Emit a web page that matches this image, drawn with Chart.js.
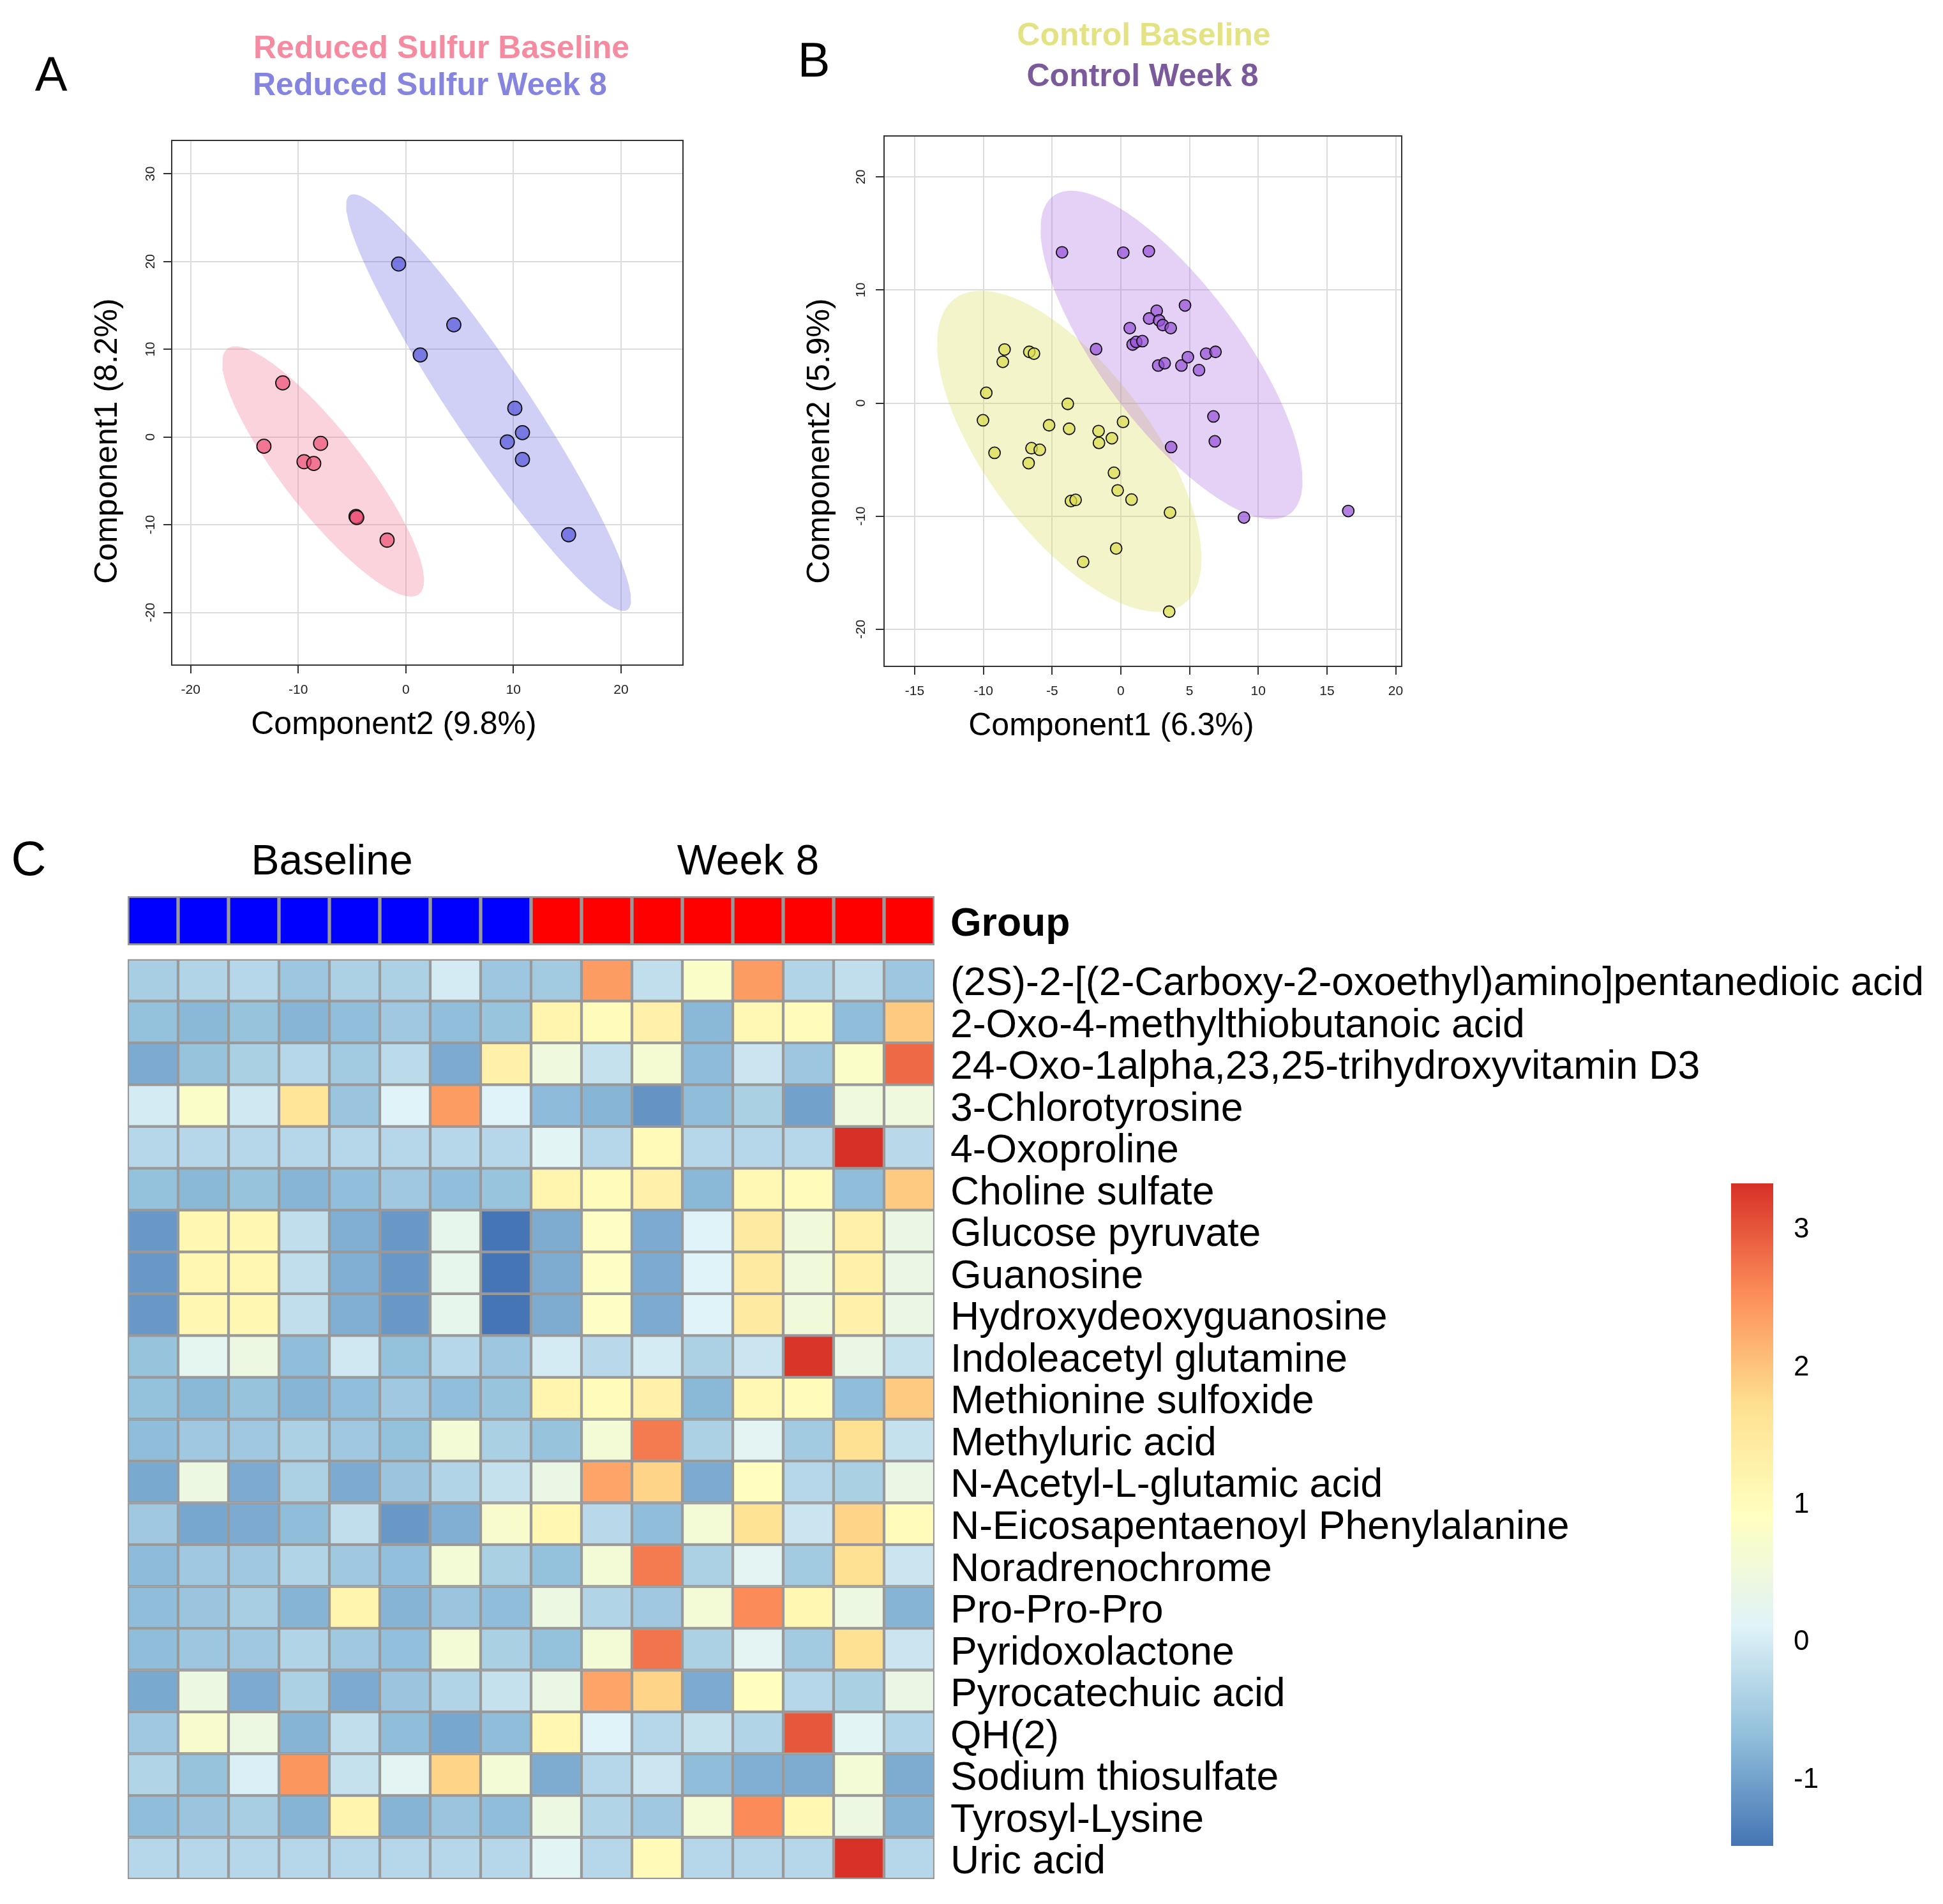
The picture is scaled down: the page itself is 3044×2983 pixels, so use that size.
<!DOCTYPE html>
<html>
<head>
<meta charset="utf-8">
<script src="https://cdn.jsdelivr.net/npm/chart.js@4.4.1/dist/chart.umd.min.js"></script>
<style>
  html, body { margin: 0; padding: 0; background: #fff; }
  body { width: 3044px; height: 2983px; position: relative; overflow: hidden; font-family: "Liberation Sans", Arial, sans-serif; }
  canvas { position: absolute; }
  .txt { position: absolute; white-space: nowrap; line-height: 1; color: #000; }
  .c { transform: translate(-50%, -50%); }
  .l { transform: translate(0, -50%); }
  .rot { transform: translate(-50%, -50%) rotate(-90deg); }
  .b { font-weight: bold; }
</style>
</head>
<body>
<!-- panel letters -->
<div class="txt c" style="left:80px; top:116px; font-size:76px;">A</div>
<div class="txt c" style="left:1275px; top:94px; font-size:76px;">B</div>
<div class="txt c" style="left:45px; top:1345px; font-size:76px;">C</div>

<!-- panel A legend + axis titles -->
<div class="txt l b" style="left:397px; top:74px; font-size:50px; color:#F48BA0;">Reduced Sulfur Baseline</div>
<div class="txt l b" style="left:396px; top:132px; font-size:50px; color:#8585E0;">Reduced Sulfur Week 8</div>
<div class="txt rot" style="left:166px; top:691px; font-size:50px;">Component1 (8.2%)</div>
<div class="txt c" style="left:617px; top:1133px; font-size:50px;">Component2 (9.8%)</div>
<canvas id="chartA" width="910" height="920" style="left:180px; top:200px;"></canvas>

<!-- panel B legend + axis titles -->
<div class="txt c b" style="left:1792px; top:54px; font-size:50px; color:#E3E385;">Control Baseline</div>
<div class="txt c b" style="left:1790px; top:118px; font-size:50px; color:#7A5A9A;">Control Week 8</div>
<div class="txt rot" style="left:1282px; top:691px; font-size:50px;">Component2 (5.9%)</div>
<div class="txt c" style="left:1741px; top:1135px; font-size:50px;">Component1 (6.3%)</div>
<canvas id="chartB" width="930" height="930" style="left:1290px; top:190px;"></canvas>

<!-- panel C -->
<div class="txt c" style="left:520px; top:1347px; font-size:66px;">Baseline</div>
<div class="txt c" style="left:1172px; top:1347px; font-size:66px;">Week 8</div>
<canvas id="chartHeat" width="2860" height="1580" style="left:180px; top:1390px;"></canvas>
<canvas id="chartLegend" width="250" height="1100" style="left:2700px; top:1830px;"></canvas>

<script>
// ---- Panel A: Reduced Sulfur (scores) ----
const rsBaseX = [-11.44, -13.19, -7.92, -9.46, -8.56, -4.63, -4.56, -1.74];
const rsBaseY = [6.16, -1.06, -0.73, -2.82, -3.02, -9.06, -9.18, -11.76];
const rsWeek8X = [-0.67, 4.46, 1.34, 10.13, 10.84, 9.43, 10.84, 15.13];
const rsWeek8Y = [19.71, 12.78, 9.35, 3.27, 0.49, -0.57, -2.57, -11.14];

// ---- Panel B: Control ----
const ctlBaseX = [-8.46, -8.59, -6.66, -6.32, -9.79, -10.03, -3.86, -5.22, -3.76, -1.62, 0.16, -0.65, -1.59,
                  -6.50, -5.90, -9.19, -6.71, -0.50, -0.23, -3.63, -3.29, 0.78, 3.58, -0.34, -2.74, 3.52];
const ctlBaseY = [4.74, 3.65, 4.53, 4.37, 0.91, -1.52, -0.07, -1.96, -2.27, -2.47, -1.66, -3.11, -3.52,
                  -3.99, -4.13, -4.40, -5.31, -6.16, -7.72, -8.66, -8.56, -8.53, -9.68, -12.86, -14.04, -18.44];
const ctlWeek8X = [-4.28, 0.18, 2.04, 4.67, 2.61, 2.06, 2.79, 3.05, 3.63, 0.65, -1.80, 0.86, 1.12,
                   1.57, 2.72, 3.19, 4.41, 4.88, 5.69, 6.21, 6.89, 6.74, 6.84, 3.66, 8.96, 16.55];
const ctlWeek8Y = [13.33, 13.30, 13.43, 8.63, 8.16, 7.48, 7.31, 6.90, 6.63, 6.63, 4.77, 5.18, 5.41,
                   5.48, 3.32, 3.52, 3.32, 4.06, 2.91, 4.37, 4.53, -1.18, -3.38, -3.89, -10.12, -9.54];

// ---- Panel C: heatmap ----
const groupLabels = ['Baseline', 'Baseline', 'Baseline', 'Baseline', 'Baseline', 'Baseline', 'Baseline', 'Baseline',
                     'Week 8', 'Week 8', 'Week 8', 'Week 8', 'Week 8', 'Week 8', 'Week 8', 'Week 8'];
const metabolites = [
  '(2S)-2-[(2-Carboxy-2-oxoethyl)amino]pentanedioic acid',
  '2-Oxo-4-methylthiobutanoic acid',
  '24-Oxo-1alpha,23,25-trihydroxyvitamin D3',
  '3-Chlorotyrosine',
  '4-Oxoproline',
  'Choline sulfate',
  'Glucose pyruvate',
  'Guanosine',
  'Hydroxydeoxyguanosine',
  'Indoleacetyl glutamine',
  'Methionine sulfoxide',
  'Methyluric acid',
  'N-Acetyl-L-glutamic acid',
  'N-Eicosapentaenoyl Phenylalanine',
  'Noradrenochrome',
  'Pro-Pro-Pro',
  'Pyridoxolactone',
  'Pyrocatechuic acid',
  'QH(2)',
  'Sodium thiosulfate',
  'Tyrosyl-Lysine',
  'Uric acid'
];
const heatValues = [
  [-0.45, -0.35, -0.30, -0.55, -0.40, -0.40, 0.00, -0.55, -0.50, 2.40, -0.20, 0.80, 2.40, -0.35, -0.20, -0.55],
  [-0.65, -0.75, -0.62, -0.78, -0.68, -0.52, -0.68, -0.60, 1.20, 1.00, 1.30, -0.75, 1.10, 1.00, -0.70, 1.95],
  [-0.90, -0.62, -0.42, -0.30, -0.50, -0.25, -0.90, 1.30, 0.50, -0.15, 0.65, -0.72, -0.10, -0.55, 0.80, 2.85],
  [0.00, 0.80, -0.05, 1.60, -0.58, 0.12, 2.40, 0.12, -0.72, -0.78, -1.15, -0.70, -0.42, -1.00, 0.50, 0.50],
  [-0.30, -0.30, -0.30, -0.30, -0.30, -0.30, -0.30, -0.30, 0.18, -0.30, 1.05, -0.30, -0.30, -0.30, 3.34, -0.27],
  [-0.65, -0.75, -0.62, -0.78, -0.68, -0.52, -0.68, -0.60, 1.20, 1.00, 1.30, -0.75, 1.10, 1.00, -0.70, 1.95],
  [-1.10, 1.15, 1.15, -0.20, -0.85, -1.10, 0.30, -1.48, -0.88, 0.85, -0.90, 0.12, 1.45, 0.55, 1.30, 0.40],
  [-1.10, 1.15, 1.15, -0.20, -0.85, -1.10, 0.30, -1.48, -0.88, 0.85, -0.90, 0.12, 1.45, 0.55, 1.30, 0.40],
  [-1.10, 1.15, 1.15, -0.20, -0.85, -1.10, 0.30, -1.48, -0.88, 0.85, -0.90, 0.12, 1.45, 0.55, 1.30, 0.40],
  [-0.62, 0.25, 0.45, -0.70, -0.05, -0.65, -0.30, -0.55, 0.00, -0.27, 0.00, -0.40, -0.10, 3.30, 0.40, -0.15],
  [-0.65, -0.75, -0.62, -0.78, -0.68, -0.52, -0.68, -0.60, 1.20, 1.00, 1.30, -0.75, 1.10, 1.00, -0.70, 1.95],
  [-0.70, -0.52, -0.52, -0.40, -0.52, -0.65, 0.60, -0.42, -0.62, 0.60, 2.70, -0.40, 0.20, -0.50, 1.70, -0.15],
  [-0.92, 0.45, -0.90, -0.40, -0.90, -0.58, -0.35, -0.15, 0.40, 2.30, 1.85, -0.90, 0.95, -0.30, -0.42, 0.40],
  [-0.52, -0.95, -0.90, -0.70, -0.20, -1.10, -0.85, 0.75, 1.15, -0.27, -0.70, 0.60, 1.65, -0.10, 1.85, 1.00],
  [-0.72, -0.52, -0.52, -0.35, -0.52, -0.67, 0.60, -0.42, -0.65, 0.60, 2.70, -0.40, 0.20, -0.50, 1.70, -0.10],
  [-0.70, -0.58, -0.45, -0.80, 1.20, -0.80, -0.58, -0.70, 0.45, -0.35, -0.52, 0.60, 2.55, 1.15, 0.45, -0.80],
  [-0.70, -0.55, -0.52, -0.35, -0.52, -0.67, 0.60, -0.42, -0.65, 0.60, 2.75, -0.40, 0.20, -0.50, 1.70, -0.10],
  [-0.92, 0.45, -0.90, -0.40, -0.90, -0.58, -0.35, -0.15, 0.40, 2.30, 1.85, -0.90, 0.95, -0.30, -0.42, 0.40],
  [-0.52, 0.75, 0.45, -0.80, -0.20, -0.70, -0.95, -0.70, 1.15, 0.12, -0.30, -0.15, -0.35, 3.00, 0.18, -0.33],
  [-0.35, -0.62, 0.08, 2.45, -0.15, 0.20, 1.85, 0.60, -0.88, -0.30, -0.08, -0.70, -0.85, -0.88, 0.60, -0.88],
  [-0.70, -0.58, -0.45, -0.80, 1.20, -0.80, -0.58, -0.70, 0.45, -0.35, -0.52, 0.60, 2.55, 1.15, 0.45, -0.80],
  [-0.30, -0.30, -0.30, -0.30, -0.30, -0.30, -0.30, -0.30, 0.18, -0.30, 1.05, -0.30, -0.30, -0.30, 3.32, -0.30]
];
const legendTicks = [-1, 0, 1, 2, 3];

// reversed RdYlBu, as pheatmap uses by default
const palette = ['#4575B4', '#91BFDB', '#E0F3F8', '#FFFFBF', '#FEE090', '#FC8D59', '#D73027'];
const groupColors = { 'Baseline': '#0000FF', 'Week 8': '#FF0000' };

Chart.defaults.font.family = '"Liberation Sans", Arial, sans-serif';
Chart.defaults.animation = false;
Chart.defaults.events = [];
Chart.defaults.plugins.legend.display = false;
Chart.defaults.plugins.tooltip.enabled = false;

// 95% normal-theory ellipse around a group (chi-square, 2 df), like mixOmics draws
function ellipsePoints(xs, ys, steps = 180) {
  const n = xs.length;
  const mx = xs.reduce((a, b) => a + b, 0) / n;
  const my = ys.reduce((a, b) => a + b, 0) / n;
  let sxx = 0, syy = 0, sxy = 0;
  for (let i = 0; i < n; i++) {
    sxx += (xs[i] - mx) ** 2;
    syy += (ys[i] - my) ** 2;
    sxy += (xs[i] - mx) * (ys[i] - my);
  }
  sxx /= n - 1; syy /= n - 1; sxy /= n - 1;
  const l11 = Math.sqrt(sxx), l21 = sxy / l11, l22 = Math.sqrt(syy - l21 * l21);
  const r = Math.sqrt(5.991);
  const pts = [];
  for (let k = 0; k <= steps; k++) {
    const t = (2 * Math.PI * k) / steps;
    pts.push({ x: mx + r * l11 * Math.cos(t), y: my + r * (l21 * Math.cos(t) + l22 * Math.sin(t)) });
  }
  return pts;
}

const toXY = (xs, ys) => xs.map((x, i) => ({ x, y: ys[i] }));

// frame around the plotting region, R style
const boxPlugin = {
  id: 'box',
  beforeDatasetsDraw(chart) {
    const { ctx, chartArea: a } = chart;
    ctx.save();
    ctx.strokeStyle = '#333';
    ctx.lineWidth = 2;
    ctx.strokeRect(a.left, a.top, a.right - a.left, a.bottom - a.top);
    ctx.restore();
  }
};

// vertical axes with big labels reserve half a label above/below; not wanted here
const noEndPadding = s => { s.paddingTop = 0; s.paddingBottom = 0; };

function scoreAxis(min, max, step, isY, yPad) {
  const ax = {
    type: 'linear', min, max,
    ticks: { stepSize: step, includeBounds: false, color: '#222', font: { size: 21 }, padding: isY ? yPad : 14 },
    grid: { color: '#DCDCDC', lineWidth: 2, tickColor: '#333', tickWidth: 2, tickLength: 13 },
    border: { display: false }
  };
  if (isY) {
    ax.ticks.minRotation = 90;
    ax.ticks.maxRotation = 90;
    ax.ticks.crossAlign = 'center';
  }
  return ax;
}

function scorePlot(id, groups, xr, yr, xStep, yStep, radius, pad, yWidth, xHeight, yPad) {
  const datasets = [];
  groups.forEach((g, i) => {
    datasets.push({
      type: 'scatter', data: toXY(g.xs, g.ys), order: 2 - i,
      backgroundColor: g.point, borderColor: '#111', borderWidth: 1.8, pointRadius: radius
    });
  });
  groups.forEach((g, i) => {
    datasets.push({
      type: 'line', data: ellipsePoints(g.xs, g.ys), order: 4 - i,
      fill: 'shape', backgroundColor: g.ellipse, borderColor: 'rgba(0,0,0,0)', borderWidth: 1,
      pointRadius: 0, tension: 0
    });
  });
  const x = scoreAxis(xr[0], xr[1], xStep, false);
  x.afterFit = s => { s.height = xHeight; s.paddingLeft = 0; s.paddingRight = 0; };
  const y = scoreAxis(yr[0], yr[1], yStep, true, yPad);
  y.afterFit = s => { s.width = yWidth; noEndPadding(s); };
  new Chart(document.getElementById(id), {
    type: 'scatter',
    data: { datasets },
    options: { responsive: false, layout: { padding: pad }, scales: { x, y } },
    plugins: [boxPlugin]
  });
}

scorePlot('chartA', [
  { xs: rsBaseX, ys: rsBaseY, point: 'rgba(236,80,118,0.7)', ellipse: 'rgba(240,110,140,0.3)' },
  { xs: rsWeek8X, ys: rsWeek8Y, point: 'rgba(80,80,220,0.68)', ellipse: 'rgba(80,80,220,0.27)' }
], [-21.76, 25.76], [-26.0, 33.8], 10, 10, 11, { left: 0, right: 20, top: 20, bottom: 0 }, 89, 78, 5);

scorePlot('chartB', [
  { xs: ctlBaseX, ys: ctlBaseY, point: 'rgba(220,220,80,0.72)', ellipse: 'rgba(220,220,80,0.3)' },
  { xs: ctlWeek8X, ys: ctlWeek8Y, point: 'rgba(150,80,215,0.72)', ellipse: 'rgba(160,90,220,0.28)' }
], [-17.23, 20.44], [-23.28, 23.62], 5, 10, 9, { left: 0, right: 24, top: 23, bottom: 0 }, 95, 76, 8);

// ---- heatmap ----
const allVals = heatValues.flat();
const heatMin = Math.min(...allVals);
const heatMax = Math.max(...allVals);

function hexToRgb(h) {
  return [parseInt(h.slice(1, 3), 16), parseInt(h.slice(3, 5), 16), parseInt(h.slice(5, 7), 16)];
}
function colorFor(v) {
  const p = Math.min(1, Math.max(0, (v - heatMin) / (heatMax - heatMin))) * (palette.length - 1);
  const i = Math.min(palette.length - 2, Math.floor(p));
  const f = p - i;
  const a = hexToRgb(palette[i]), b = hexToRgb(palette[i + 1]);
  const c = a.map((ch, k) => Math.round(ch + (b[k] - ch) * f));
  return `rgb(${c[0]},${c[1]},${c[2]})`;
}

// the annotation strip sits above row 0, in row units
const groupTop = -1.51, groupBottom = -0.34;
// R sets these labels a touch below the row centre
const labelNudge = 0.1;

const heatDatasets = [{
  data: groupLabels.map(() => [groupTop, groupBottom]),
  backgroundColor: groupLabels.map(g => groupColors[g]),
  borderColor: '#999999', borderWidth: 3, borderSkipped: false,
  barPercentage: 1, categoryPercentage: 1, grouped: false
}];
heatValues.forEach((row, r) => {
  heatDatasets.push({
    data: row.map(() => [r, r + 1]),
    backgroundColor: row.map(colorFor),
    borderColor: '#999999', borderWidth: 2.5, borderSkipped: false,
    barPercentage: 1, categoryPercentage: 1, grouped: false
  });
});

new Chart(document.getElementById('chartHeat'), {
  type: 'bar',
  data: { labels: groupLabels.map((g, i) => i), datasets: heatDatasets },
  options: {
    responsive: false,
    layout: { padding: { left: 20, top: 14, bottom: 26, right: 0 } },
    scales: {
      x: { display: false },
      y: {
        type: 'linear', min: groupTop, max: metabolites.length, reverse: true, position: 'right',
        grid: { display: false }, border: { display: false },
        afterBuildTicks: s => {
          s.ticks = [{ value: (groupTop + groupBottom) / 2 + labelNudge }]
            .concat(metabolites.map((_, i) => ({ value: i + 0.5 + labelNudge })));
        },
        afterFit: s => { s.width = 1576; noEndPadding(s); },
        ticks: {
          autoSkip: false, padding: 17, color: '#000',
          font: c => ({ size: 62.5, weight: c.index === 0 ? 'bold' : 'normal' }),
          callback: (v, i) => (i === 0 ? 'Group' : metabolites[i - 1])
        }
      }
    }
  }
});

// ---- colour key ----
new Chart(document.getElementById('chartLegend'), {
  type: 'bar',
  data: {
    labels: [''],
    datasets: [{
      data: [[heatMin, heatMax]],
      backgroundColor: c => {
        const { ctx, chartArea } = c.chart;
        if (!chartArea) return palette[3];
        const g = ctx.createLinearGradient(0, chartArea.bottom, 0, chartArea.top);
        palette.forEach((col, i) => g.addColorStop(i / (palette.length - 1), col));
        return g;
      },
      borderWidth: 0, barPercentage: 1, categoryPercentage: 1
    }]
  },
  options: {
    responsive: false,
    layout: { padding: { left: 12, top: 24, bottom: 38, right: 0 } },
    scales: {
      x: { display: false },
      y: {
        type: 'linear', min: heatMin, max: heatMax, position: 'right',
        grid: { display: false }, border: { display: false },
        afterBuildTicks: s => { s.ticks = legendTicks.map(v => ({ value: v })); },
        afterFit: s => { s.width = 172; noEndPadding(s); },
        ticks: { padding: 24, color: '#000', font: { size: 44 } }
      }
    }
  }
});
</script>
</body>
</html>
